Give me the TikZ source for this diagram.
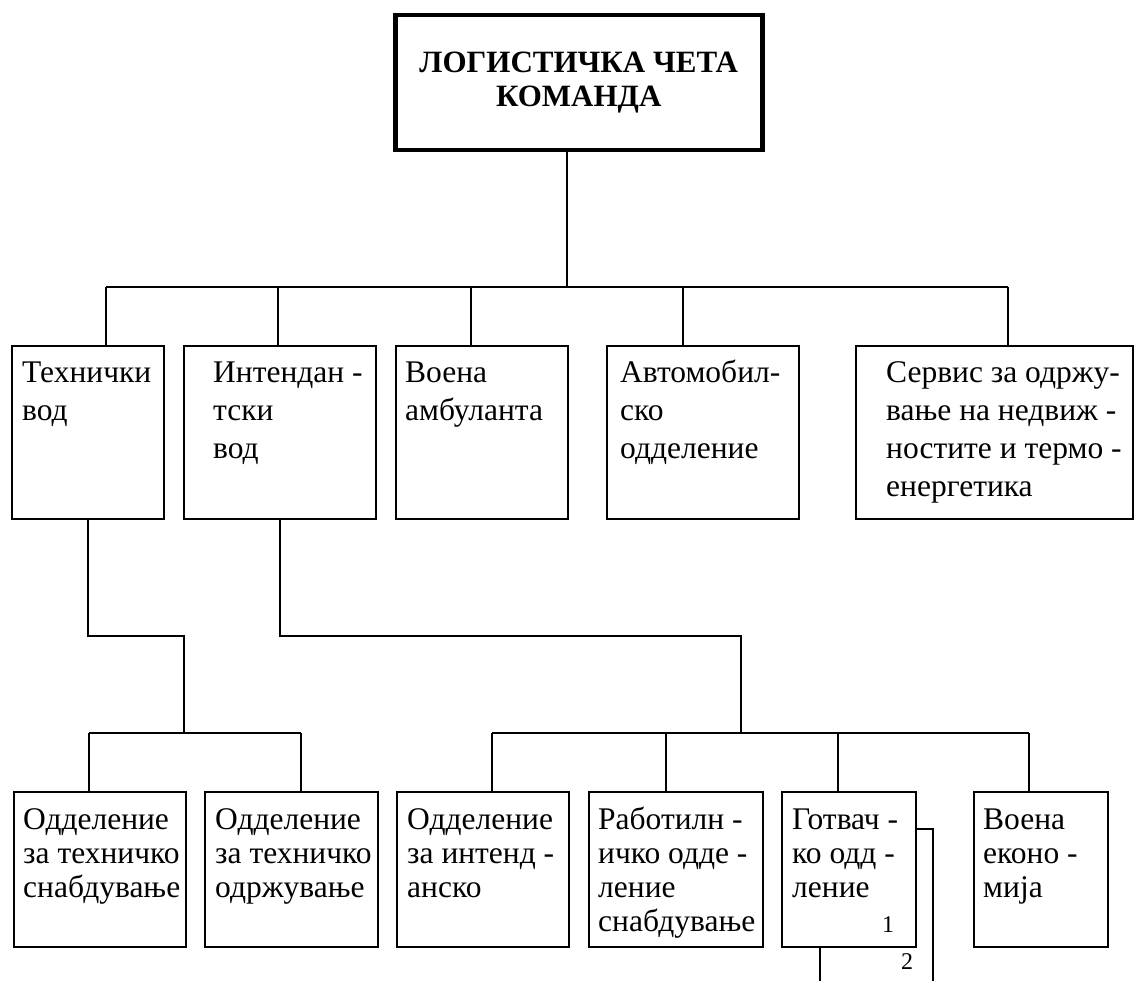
\documentclass[tikz,border=0pt]{standalone}
\usepackage{fontspec}
\setmainfont{Liberation Serif}
\begin{document}
\begin{tikzpicture}[x=1pt,y=-1pt,
  bx/.style={draw, line width=2pt, inner sep=0pt, anchor=north west},
  topbx/.style={draw, line width=4.5pt, inner sep=0pt, anchor=north west, align=center, font=\bfseries\fontsize{31}{34}\selectfont},
  tone/.style={anchor=north west, inner sep=0pt, align=left, font=\fontsize{31.5}{38}\selectfont},
  ttwo/.style={anchor=north west, inner sep=0pt, align=left, font=\fontsize{31.5}{34}\selectfont},
  num/.style={inner sep=0pt, font=\fontsize{24}{26}\selectfont},
  ln/.style={line width=2pt}]
\useasboundingbox (0,0) rectangle (1134,981);
% top box
\node[topbx, minimum width=367, minimum height=135] (cmd) at (393,13) {ЛОГИСТИЧКА ЧЕТА\\КОМАНДА};
% level 1 boxes
\node[bx, minimum width=152, minimum height=173] (a) at (11,345) {};
\node[bx, minimum width=192, minimum height=173] (b) at (183,345) {};
\node[bx, minimum width=172, minimum height=173] (c) at (395,345) {};
\node[bx, minimum width=192, minimum height=173] (d) at (606,345) {};
\node[bx, minimum width=277, minimum height=173] (e) at (855,345) {};
\node[tone] (ta) at ([shift={(11,10.4)}]a.north west) {\strut Технички\\вод};
\node[tone] (tb) at ([shift={(30,10.4)}]b.north west) {\strut Интендан -\\тски\\вод};
\node[tone] (tc) at ([shift={(10,10.4)}]c.north west) {\strut Воена\\амбуланта};
\node[tone] (td) at ([shift={(14,10.4)}]d.north west) {\strut Автомобил-\\ско\\одделение};
\node[tone] (te) at ([shift={(31,10.4)}]e.north west) {\strut Сервис за одржу-\\вање на недвиж -\\ностите и термо -\\енергетика};
% level 2 boxes
\node[bx, minimum width=172, minimum height=155] (b1) at (13,791) {};
\node[bx, minimum width=173, minimum height=155] (b2) at (204,791) {};
\node[bx, minimum width=172, minimum height=155] (b3) at (396,791) {};
\node[bx, minimum width=174, minimum height=155] (b4) at (588,791) {};
\node[bx, minimum width=134, minimum height=155] (b5) at (781,791) {};
\node[bx, minimum width=134, minimum height=155] (b6) at (973,791) {};
\node[ttwo] (tb1) at ([shift={(10,14.2)}]b1.north west) {\strut Одделение\\за техничко\\снабдување};
\node[ttwo] (tb2) at ([shift={(11,14.2)}]b2.north west) {\strut Одделение\\за техничко\\одржување};
\node[ttwo] (tb3) at ([shift={(11,14.2)}]b3.north west) {\strut Одделение\\за интенд -\\анско};
\node[ttwo] (tb4) at ([shift={(10,14.2)}]b4.north west) {\strut Работилн -\\ичко одде -\\ление\\снабдување};
\node[ttwo] (tb5) at ([shift={(11,14.2)}]b5.north west) {\strut Готвач -\\ко одд -\\ление};
\node[ttwo] (tb6) at ([shift={(10,14.2)}]b6.north west) {\strut Воена\\еконо -\\мија};
\node[num] (n1) at (888,925) {1};
\node[num] (n2) at (907,962) {2};
% top bus
\coordinate (bus) at (567,287);
\coordinate (pa) at (106,287);
\coordinate (pb) at (278,287);
\coordinate (pc) at (471,287);
\coordinate (pd) at (683,287);
\coordinate (pe) at (1008,287);
\draw[ln] (cmd.south -| bus) -- (bus);
\draw[ln] (pa) -- (pe);
\draw[ln] (pa) -- (pa |- a.north);
\draw[ln] (pb) -- (pb |- b.north);
\draw[ln] (pc) -- (pc |- c.north);
\draw[ln] (pd) -- (pd |- d.north);
\draw[ln] (pe) -- (pe |- e.north);
% feeds to level 2
\coordinate (ja) at (184,636);
\coordinate (jb) at (741,636);
\coordinate (q1) at (89,733);
\coordinate (q2) at (301,733);
\coordinate (q3) at (492,733);
\coordinate (q4) at (666,733);
\coordinate (q5) at (838,733);
\coordinate (q6) at (1029,733);
\draw[ln] (a.south) |- (ja) -- (ja |- q1);
\draw[ln] (b.south) |- (jb) -- (jb |- q3);
\draw[ln] (q1) -- (q2);
\draw[ln] (q3) -- (q6);
\draw[ln] (q1) -- (q1 |- b1.north);
\draw[ln] (q2) -- (q2 |- b2.north);
\draw[ln] (q3) -- (q3 |- b3.north);
\draw[ln] (q4) -- (q4 |- b4.north);
\draw[ln] (q5) -- (q5 |- b5.north);
\draw[ln] (q6) -- (q6 |- b6.north);
% extra lines from Готвачко одделение
\coordinate (r1) at (933,829);
\coordinate (r2) at (933,981);
\coordinate (r3) at (820,981);
\draw[ln] (b5.east |- r1) -- (r1) -- (r2);
\draw[ln] (b5.south -| r3) -- (r3);
\end{tikzpicture}
\end{document}
